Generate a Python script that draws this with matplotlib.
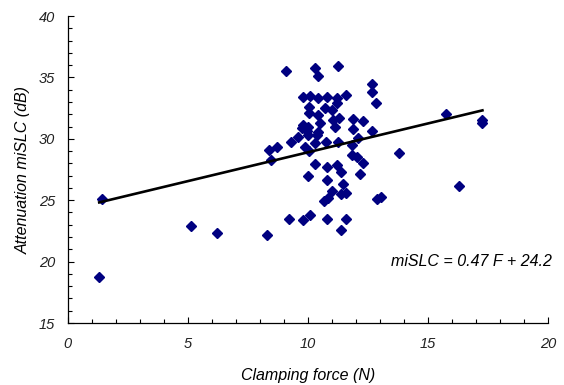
import matplotlib
matplotlib.use("Agg")
import matplotlib.pyplot as plt
from matplotlib.ticker import MultipleLocator
import numpy as np

plt.rcParams['font.family'] = ['Liberation Sans', 'DejaVu Sans']

# Clamping force (N)
force = [1.32, 1.42, 5.15, 6.23, 8.30, 8.40, 8.73, 8.49, 9.30, 9.60,
         9.88, 10.06, 10.02, 10.30, 10.37, 10.76, 11.27, 11.82, 12.10, 12.69,
         11.86, 12.06, 12.31, 10.30, 10.81, 11.22, 11.38, 10.03, 12.18, 10.81,
         11.48, 11.01, 11.40, 11.61, 10.85, 10.69, 12.88, 13.03, 13.80, 15.77,
         17.27, 17.27, 16.29, 9.23, 9.81, 10.09, 10.81, 11.61, 11.38, 9.10,
         10.30, 10.43, 11.24, 12.69, 12.69, 12.86, 9.81, 10.09, 10.43, 10.78,
         11.22, 11.61, 11.22, 10.05, 10.05, 10.71, 10.99, 10.43, 9.81, 10.02,
         10.50, 11.06, 11.31, 11.13, 11.89, 12.30, 11.89, 10.43, 9.75, 9.95]
# Attenuation miSLC (dB)
atten = [18.75, 25.07, 22.92, 22.35, 22.14, 29.09, 29.30, 28.27, 29.76, 30.12,
         29.36, 29.03, 30.31, 29.69, 30.31, 29.76, 29.76, 29.50, 30.10, 30.65,
         28.70, 28.49, 28.00, 27.98, 27.73, 27.87, 27.30, 26.97, 27.15, 26.68,
         26.32, 25.75, 25.50, 25.61, 25.20, 24.92, 25.07, 25.24, 28.87, 32.02,
         31.53, 31.31, 26.16, 23.47, 23.35, 23.80, 23.50, 23.50, 22.57, 35.50,
         35.74, 35.15, 35.95, 34.50, 33.79, 32.90, 33.38, 33.49, 33.30, 33.38,
         33.30, 33.57, 32.89, 32.60, 32.10, 32.53, 32.35, 31.94, 31.12, 30.98,
         31.26, 31.53, 31.67, 30.98, 31.61, 31.45, 30.80, 30.53, 30.90, 30.60]

slope = 0.47
intercept = 24.2
equation = "miSLC = 0.47 F + 24.2"

fig = plt.figure(figsize=(5.64, 3.85), dpi=100)
ax = fig.add_axes([0.1197, 0.161, 0.852, 0.7974])

ax.plot(force, atten, linestyle='none', marker='D', markersize=4.8,
        color='#000080', markeredgecolor='#000080', zorder=2)

xf = np.array([min(force), max(force)])
ax.plot(xf, slope * xf + intercept, color='black', linewidth=1.9, zorder=3)

ax.set_xlim(0, 20)
ax.set_ylim(15, 40)
ax.xaxis.set_major_locator(MultipleLocator(5))
ax.xaxis.set_minor_locator(MultipleLocator(1))
ax.yaxis.set_major_locator(MultipleLocator(5))
ax.yaxis.set_minor_locator(MultipleLocator(1))
ax.tick_params(which='both', direction='in', width=0.8, colors='black')
ax.tick_params(which='major', length=4)
ax.tick_params(which='minor', length=3)
ax.tick_params(axis='x', which='major', pad=10, labelsize=10.5)
ax.tick_params(axis='y', which='major', pad=9, labelsize=10.5)
for lbl in ax.get_xticklabels() + ax.get_yticklabels():
    lbl.set_fontstyle('italic')
    lbl.set_color('#222222')

for s in ['top', 'right']:
    ax.spines[s].set_visible(False)
for s in ['left', 'bottom']:
    ax.spines[s].set_linewidth(0.9)
    ax.spines[s].set_color('black')

ax.set_xlabel('Clamping force (N)', fontsize=11.5, fontstyle='italic', labelpad=12)
ax.set_ylabel('Attenuation miSLC (dB)', fontsize=11.5, fontstyle='italic', labelpad=6)

ax.text(20.15, 20.0, equation, fontsize=11.5, fontstyle='italic',
        ha='right', va='center', clip_on=False)

fig.savefig('out.png', dpi=100)
